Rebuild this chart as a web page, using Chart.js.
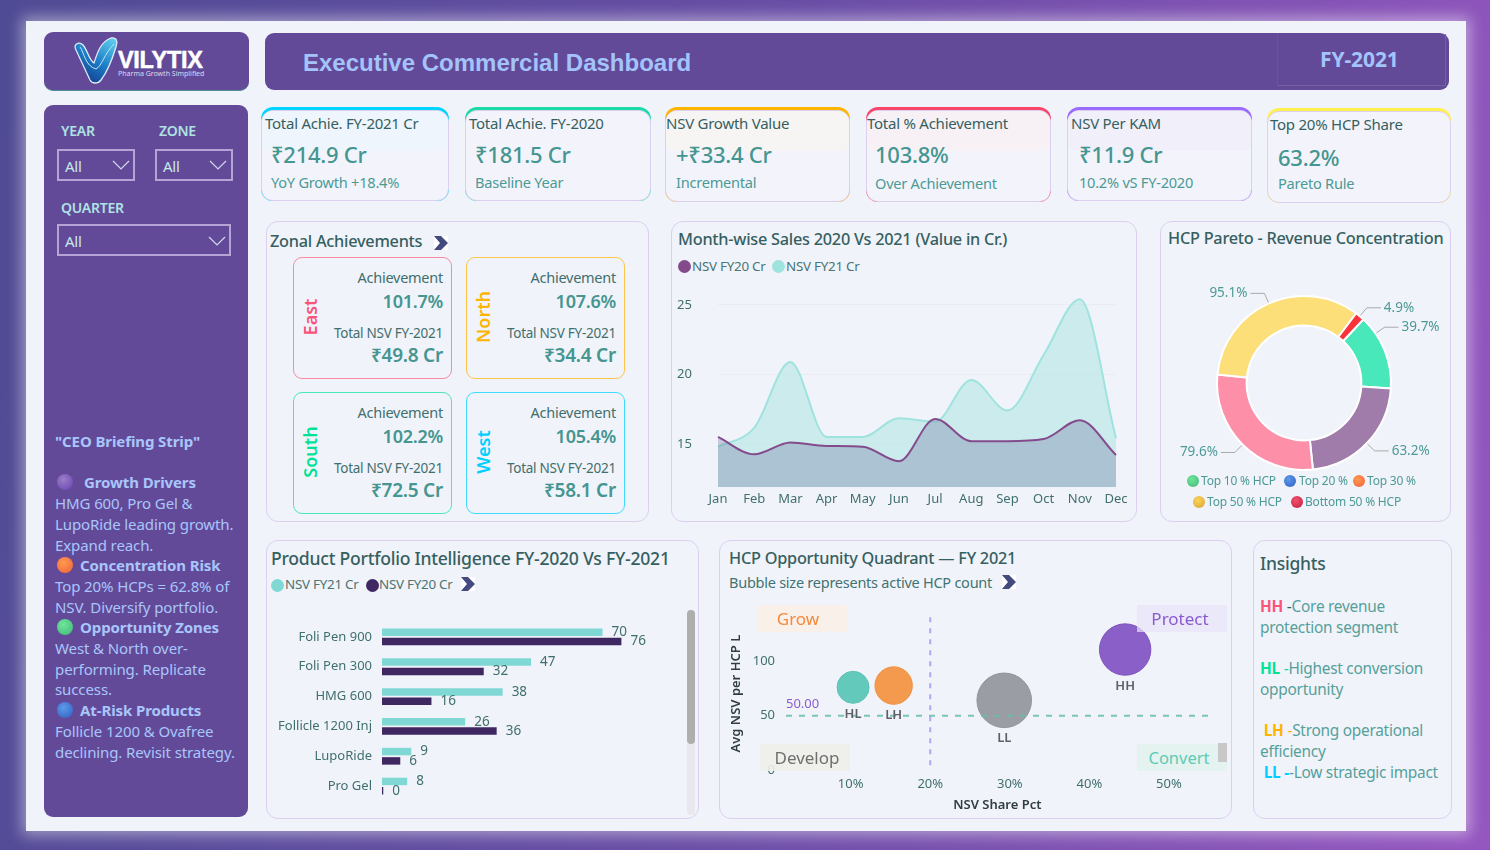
<!DOCTYPE html>
<html>
<head>
<meta charset="utf-8">
<title>Executive Commercial Dashboard</title>
<script src="https://cdn.jsdelivr.net/npm/chart.js@4"></script>
<style>
  html, body { margin: 0; padding: 0; }
  body { width: 1490px; height: 850px; overflow: hidden; position: relative; font-family: "Noto Sans", sans-serif; color: #35605f;
    background: linear-gradient(100deg, #4f4b94 0%, #6a4ea6 50%, #9556c0 100%); }
  .abs, .t, canvas { position: absolute; }
  .t { white-space: nowrap; line-height: 20px; letter-spacing: -0.25px; }
  #sheet { left: 26px; top: 21px; width: 1440px; height: 810px; background: #f1f3fa; box-shadow: 0 0 14px 4px rgba(255,255,255,.45); }
  .bar { background: #634a99; border-radius: 9px; }
  .panel { border: 1.5px solid #dccff0; border-radius: 12px; box-sizing: border-box; background: #f1f3fa; }
  .h2 { font-size: 16.3px; font-weight: 500; color: #35605f; }
  .lbl { font-size: 13.4px; color: #4a7573; }
  .dot { width: 13px; height: 13px; border-radius: 50%; }
  .orb { width: 13px; height: 13px; border-radius: 50%; }
  .dd { border: 2px solid #b5a5d4; box-sizing: border-box; }
  .kpi-top { border-radius: 12px; overflow: hidden; }
  .kpi-in { left: 0; right: 0; top: 3px; bottom: 0; border: 1.5px solid #dccff0; border-radius: 12px; box-sizing: border-box; overflow: hidden; }
  .zone { border: 1.5px solid; border-radius: 9px; box-sizing: border-box; }
  .rot { transform: translate(-50%, -50%) rotate(-90deg); font-size: 18px; font-weight: 600; line-height: 20px; white-space: nowrap; }
  .quad { font-size: 17px; text-align: center; line-height: 27px; box-sizing: border-box; }
</style>
</head>
<body>
<div id="sheet" class="abs"></div>

<!-- logo -->
<div class="abs bar" style="left:44px;top:32px;width:205px;height:59px;border-bottom:1px solid #4f8f9a;box-sizing:border-box"></div>
<svg class="abs" style="left:70px;top:36px" width="50" height="50" viewBox="0 0 50 50">
  <defs><linearGradient id="lg" x1="0.9" y1="0" x2="0.3" y2="1"><stop offset="0" stop-color="#5fd0ee"/><stop offset="0.55" stop-color="#1d7cc6"/><stop offset="1" stop-color="#123d8f"/></linearGradient></defs>
  <path d="M6 14 C3 8 9 5 13 9 C18 15 19 24 24 27 C27 18 30 6 41 2 C47 1 48 6 46 11 C42 24 38 35 31 44 C28 48 22 48 20 44 Z" fill="url(#lg)" stroke="#dce9f7" stroke-width="1.3"/>
  <path d="M10 11 C14 16 15 30 26 33 C32 30 34 18 44 8" fill="none" stroke="#bfe6f5" stroke-width="1"/>
</svg>
<div class="t" style="left:118px;top:48px;font:900 23.5px/24px 'Liberation Sans';color:#fff;letter-spacing:-0.3px;-webkit-text-stroke:0.5px #fff">VILYTIX</div>
<div class="t" style="left:118px;top:69px;font-size:7px;line-height:9px;color:#d9d9ee;letter-spacing:0">Pharma Growth Simplified</div>

<!-- header -->
<div class="abs bar" style="left:265px;top:33px;width:1184px;height:57px"></div>
<div class="abs" style="left:1277px;top:34px;width:167px;height:51px;border-right:1px solid #74619f;border-bottom:1px solid #74619f;border-left:1px solid #6a5499"></div>
<div class="t" style="left:303px;top:48px;font:700 24px/30px 'Liberation Sans';color:#a3c4fb;letter-spacing:0">Executive Commercial Dashboard</div>
<div class="t" style="left:1320px;top:45px;font-size:21px;line-height:28px;font-weight:700;color:#a3c4fb;letter-spacing:-0.1px">FY-2021</div>

<!-- sidebar -->
<div class="abs bar" style="left:44px;top:105px;width:204px;height:712px"></div>
<div class="t" style="left:61px;top:121px;font-size:14px;font-weight:600;color:#aee3e3">YEAR</div>
<div class="t" style="left:159px;top:121px;font-size:14px;font-weight:600;color:#aee3e3">ZONE</div>
<div class="t" style="left:61px;top:198px;font-size:14px;font-weight:600;color:#aee3e3">QUARTER</div>
<div class="abs dd" style="left:57px;top:149px;width:78px;height:32px"></div>
<div class="abs dd" style="left:155px;top:149px;width:78px;height:32px"></div>
<div class="abs dd" style="left:57px;top:224px;width:174px;height:32px"></div>
<div class="t" style="left:65px;top:156px;font-size:15px;color:#c6e8ea">All</div>
<div class="t" style="left:163px;top:156px;font-size:15px;color:#c6e8ea">All</div>
<div class="t" style="left:65px;top:231px;font-size:15px;color:#c6e8ea">All</div>
<svg class="abs" style="left:112px;top:160px" width="18" height="10"><path d="M1 1 L9 9 L17 1" fill="none" stroke="#cfd8ee" stroke-width="1.2"/></svg>
<svg class="abs" style="left:209px;top:160px" width="18" height="10"><path d="M1 1 L9 9 L17 1" fill="none" stroke="#cfd8ee" stroke-width="1.2"/></svg>
<svg class="abs" style="left:208px;top:236px" width="18" height="10"><path d="M1 1 L9 9 L17 1" fill="none" stroke="#cfd8ee" stroke-width="1.2"/></svg>

<div class="abs" style="left:55px;top:431px;width:190px;font-size:15px;line-height:20.7px;color:#a8c6fb;letter-spacing:-0.1px;white-space:nowrap">
  <b>"CEO Briefing Strip"</b><br><br>
  <b style="margin-left:29px">Growth Drivers</b><br>
  HMG 600, Pro Gel &amp;<br>LupoRide leading growth.<br>Expand reach.<br>
  <b style="margin-left:25px">Concentration Risk</b><br>
  Top 20% HCPs = 62.8% of<br>NSV. Diversify portfolio.<br>
  <b style="margin-left:25px">Opportunity Zones</b><br>
  West &amp; North over-<br>performing. Replicate<br>success.<br>
  <b style="margin-left:25px">At-Risk Products</b><br>
  Follicle 1200 &amp; Ovafree<br>declining. Revisit strategy.
</div>
<div class="abs orb" style="left:57px;top:474px;width:16px;height:16px;background:radial-gradient(circle at 40% 35%,#9a7fc8,#6a3fb0)"></div>
<div class="abs orb" style="left:57px;top:557px;width:16px;height:16px;background:radial-gradient(circle at 40% 35%,#ff9a50,#f0603a)"></div>
<div class="abs orb" style="left:57px;top:619px;width:16px;height:16px;background:radial-gradient(circle at 40% 35%,#70e49a,#3cb878)"></div>
<div class="abs orb" style="left:57px;top:702px;width:16px;height:16px;background:radial-gradient(circle at 40% 35%,#5c9ae8,#2f5ec0)"></div>

<div id="kpis"></div>

<!-- zonal -->
<div class="abs panel" style="left:266px;top:221px;width:383px;height:301px"></div>
<div class="t h2" style="left:270px;top:231px">Zonal Achievements</div>
<div id="zones"></div>

<!-- month-wise -->
<div class="abs panel" style="left:671px;top:221px;width:466px;height:301px"></div>
<div class="t h2" style="left:678px;top:229px">Month-wise Sales 2020 Vs 2021 (Value in Cr.)</div>
<div class="abs dot" style="left:678px;top:260px;background:#834b8b"></div>
<div class="t lbl" style="left:692px;top:256px">NSV FY20 Cr</div>
<div class="abs dot" style="left:772px;top:260px;background:#9fe3de"></div>
<div class="t lbl" style="left:786px;top:256px">NSV FY21 Cr</div>
<canvas id="monthChart" width="459" height="228" style="left:677px;top:285px"></canvas>

<!-- pareto -->
<div class="abs panel" style="left:1160px;top:221px;width:291px;height:301px"></div>
<div class="t h2" style="left:1168px;top:228px">HCP Pareto - Revenue Concentration</div>
<canvas id="paretoChart" width="286" height="226" style="left:1161px;top:270px"></canvas>
<div id="paretoLegend"></div>

<!-- product -->
<div class="abs panel" style="left:266px;top:540px;width:433px;height:279px"></div>
<div class="t" style="left:271px;top:548px;font-size:17.6px;font-weight:500;color:#35605f">Product Portfolio Intelligence FY-2020 Vs FY-2021</div>
<div class="abs dot" style="left:271px;top:579px;background:#7fd8d4"></div>
<div class="t lbl" style="left:285px;top:574px">NSV FY21 Cr</div>
<div class="abs dot" style="left:366px;top:579px;background:#3f2862"></div>
<div class="t lbl" style="left:379px;top:574px">NSV FY20 Cr</div>
<canvas id="productChart" width="412" height="179" style="left:268px;top:622px"></canvas>
<div class="abs" style="left:687px;top:610px;width:8px;height:205px;background:#e8e8ee;border-radius:4px"></div>
<div class="abs" style="left:687px;top:610px;width:8px;height:134px;background:#aeaeae;border-radius:4px"></div>

<!-- quadrant -->
<div class="abs panel" style="left:719px;top:540px;width:513px;height:279px"></div>
<div class="t h2" style="left:729px;top:548px">HCP Opportunity Quadrant — FY 2021</div>
<div class="t" style="left:729px;top:572px;font-size:14.5px;color:#3f7472">Bubble size represents active HCP count</div>
<!-- bubble charts keep a margin of the largest radius around the plot, so this canvas runs past the panel's plot on top and right -->
<canvas id="quadChart" width="509" height="224" style="left:728px;top:589px"></canvas>
<div class="abs quad" style="left:757px;top:605px;width:90px;height:27px;padding-right:8px;background:rgba(251,238,230,.85);color:#f58a3c">Grow</div>
<div class="abs quad" style="left:1137px;top:605px;width:90px;height:27px;padding-right:4px;background:rgba(232,226,250,.7);color:#8a5bd0">Protect</div>
<div class="abs quad" style="left:760px;top:744px;width:90px;height:27px;padding-left:4px;background:rgba(238,238,234,.9);color:#6f6f6f">Develop</div>
<div class="abs quad" style="left:1137px;top:744px;width:90px;height:27px;padding-right:6px;font-size:16.5px;background:#e4f3f0;color:#5ecbb5">Convert</div>
<div class="abs" style="left:1218px;top:743px;width:9px;height:19px;background:#c8c8c8"></div>

<!-- insights -->
<div class="abs panel" style="left:1253px;top:540px;width:199px;height:279px"></div>
<div class="t" style="left:1260px;top:553px;font-size:17.5px;font-weight:500;color:#35605f">Insights</div>
<div class="abs" style="left:1260px;top:597px;font-size:15.4px;line-height:20.7px;color:#55a09b;white-space:nowrap;letter-spacing:-0.25px">
  <b style="color:#f9557a">HH</b> <span style="color:#35605f">-</span>Core revenue<br>protection segment<br><br>
  <b style="color:#00e396">HL</b> <span style="color:#00e396">-</span>Highest conversion<br>opportunity<br><br>
  &nbsp;<b style="color:#ffb400">LH</b> <span style="color:#ffb400">-</span>Strong operational<br>efficiency<br>
  &nbsp;<b style="color:#00cfff">LL</b> <b style="color:#00cfff">-</b>-Low strategic impact
</div>

<script>
// KPI row
const kpiTitles = ['Total Achie. FY-2021 Cr', 'Total Achie. FY-2020', 'NSV Growth Value', 'Total % Achievement', 'NSV Per KAM', 'Top 20% HCP Share'];
const kpiValues = ['₹214.9 Cr', '₹181.5 Cr', '+₹33.4 Cr', '103.8%', '₹11.9 Cr', '63.2%'];
const kpiNotes = ['YoY Growth +18.4%', 'Baseline Year', 'Incremental', 'Over Achievement', '10.2% vS FY-2020', 'Pareto Rule'];

// Zones
const zoneNames = ['East', 'North', 'South', 'West'];
const zoneAchievement = ['101.7%', '107.6%', '102.2%', '105.4%'];
const zoneNsv = ['₹49.8 Cr', '₹34.4 Cr', '₹72.5 Cr', '₹58.1 Cr'];

// Month-wise sales
const months = ['Jan', 'Feb', 'Mar', 'Apr', 'May', 'Jun', 'Jul', 'Aug', 'Sep', 'Oct', 'Nov', 'Dec'];
const nsvFy20Monthly = [15.5, 14.25, 15.1, 14.85, 14.8, 13.75, 16.8, 15.2, 15.2, 15.35, 16.7, 14.2];
const nsvFy21Monthly = [14.8, 16.15, 20.9, 15.5, 15.5, 16.85, 16.6, 19.6, 17.4, 21.4, 25.4, 15.4];
const monthTicks = [15, 20, 25];

// Pareto
const paretoLabels = ['Top 10 % HCP', 'Top 20 %', 'Top 30 %', 'Top 50 % HCP', 'Bottom 50 % HCP'];
const paretoValues = [39.7, 63.2, 79.6, 95.1, 4.9];

// Products
const products = ['Foli Pen 900', 'Foli Pen 300', 'HMG 600', 'Follicle 1200 Inj', 'LupoRide', 'Pro Gel'];
const nsvFy21Product = [70, 47.3, 38.3, 26.4, 9.3, 8];
const nsvFy20Product = [76, 32.3, 15.7, 36.4, 5.8, 0.4];

// Quadrant
const segments = ['HH', 'LL', 'LH', 'HL'];
const nsvSharePct = [44.5, 29.3, 15.4, 10.3];
const avgNsvPerHcp = [111, 64.2, 77.8, 76.2];
const activeHcpCount = [660, 745, 350, 256];
const shareTicks = [10, 20, 30, 40, 50];
const avgTicks = [0, 50, 100];
const shareSplit = 20;
const avgSplit = 50;

// Page furniture built from the lists above
const kpiBoxes = [
  { x: 261, y: 107, w: 188, h: 94, accent: '#00d4ff', tint: '#eef5fc', tx: 4, vx: 10, vy: 47, ny: 75 },
  { x: 465, y: 107, w: 186, h: 94, accent: '#19dba8', tint: null, tx: 4, vx: 10, vy: 47, ny: 75 },
  { x: 665, y: 107, w: 185, h: 95, accent: '#ffb400', tint: '#f7f5f3', tx: 1, vx: 11, vy: 47, ny: 75 },
  { x: 866, y: 107, w: 185, h: 95, accent: '#f9466a', tint: '#f7f1f6', tx: 1, vx: 9, vy: 47, ny: 76 },
  { x: 1067, y: 107, w: 185, h: 94, accent: '#9b6bff', tint: '#f1effa', tx: 4, vx: 12, vy: 47, ny: 75 },
  { x: 1267, y: 108, w: 184, h: 95, accent: '#fff04d', tint: null, tx: 3, vx: 11, vy: 49, ny: 75 }
];
document.getElementById('kpis').innerHTML = kpiBoxes.map((b, i) => `
  <div class="abs kpi-top" style="left:${b.x}px;top:${b.y}px;width:${b.w}px;height:${b.h}px;background:${b.accent}">
    <div class="abs kpi-in" style="background:#f3f4fb">
      ${b.tint ? `<div class="abs" style="left:0;right:0;top:0;height:40px;background:${b.tint};border-radius:0 0 8px 8px"></div>` : ''}
    </div>
  </div>
  <div class="t" style="left:${b.x + b.tx}px;top:${b.y + 6}px;font-size:15px;color:#35605f">${kpiTitles[i]}</div>
  <div class="t" style="left:${b.x + b.vx}px;top:${b.y + b.vy - 14}px;font-size:22px;line-height:28px;font-weight:500;color:#459590">${kpiValues[i]}</div>
  <div class="t" style="left:${b.x + b.vx}px;top:${b.y + b.ny - 10}px;font-size:14.6px;color:#4b9a96">${kpiNotes[i]}</div>`).join('');

const zoneBoxes = [
  { x: 293, y: 257, color: '#f9557a', edge: '#f98aa2' },
  { x: 466, y: 257, color: '#ffb400', edge: '#fbc64a' },
  { x: 293, y: 392, color: '#00e396', edge: '#4be8bc' },
  { x: 466, y: 392, color: '#00cfff', edge: '#3fdcff' }
];
document.getElementById('zones').innerHTML = zoneBoxes.map((b, i) => `
  <div class="abs zone" style="left:${b.x}px;top:${b.y}px;width:159px;height:122px;border-color:${b.edge}"></div>
  <div class="abs rot" style="left:${b.x + 17}px;top:${b.y + 60}px;color:${b.color}">${zoneNames[i]}</div>
  <div class="t" style="right:${1490 - b.x - 150}px;top:${b.y + 10}px;font-size:14.5px;color:#3f6f6d">Achievement</div>
  <div class="t" style="right:${1490 - b.x - 150}px;top:${b.y + 34}px;font-size:18px;font-weight:600;color:#459590">${zoneAchievement[i]}</div>
  <div class="t" style="right:${1490 - b.x - 150}px;top:${b.y + 66}px;font-size:13.5px;color:#3f6f6d">Total NSV FY-2021</div>
  <div class="t" style="right:${1490 - b.x - 150}px;top:${b.y + 88}px;font-size:19px;font-weight:600;color:#459590">${zoneNsv[i]}</div>`).join('');

const orbs = [
  ['#70e49a', '#3cb878'], ['#5c9ae8', '#2f5ec0'], ['#ff9a50', '#f0603a'], ['#f7d45a', '#e0a030'], ['#f0506a', '#c02040']
];
const legendSpots = [[1187, 1201, 481], [1284, 1299, 481], [1353, 1367, 481], [1193, 1207, 502], [1291, 1305, 502]];
document.getElementById('paretoLegend').innerHTML = legendSpots.map((s, i) => `
  <div class="abs orb" style="left:${s[0]}px;top:${s[2] - 6}px;width:12px;height:12px;background:radial-gradient(circle at 40% 35%,${orbs[i][0]},${orbs[i][1]})"></div>
  <div class="t" style="left:${s[1]}px;top:${s[2] - 10}px;font-size:12px;color:#4b9a96;letter-spacing:-0.2px">${paretoLabels[i]}</div>`).join('');

// The little double-toned chevrons next to titles
[[434, 236], [461, 577], [1002, 575]].forEach(([x, y]) => {
  document.body.insertAdjacentHTML('beforeend', `<svg class="abs" style="left:${x}px;top:${y}px" width="14" height="14">
    <rect width="14" height="14" fill="#fff"/><path d="M0 0 H7 L14 7 L7 14 H0 L6 7 Z" fill="#44497e"/></svg>`);
});

Chart.defaults.font.family = '"Noto Sans", sans-serif';
Chart.defaults.animation = false;
Chart.defaults.responsive = false;
Chart.defaults.plugins.legend.display = false;
Chart.defaults.plugins.tooltip.enabled = false;

const tickColor = '#3f6f6d';

// Chart.js reserves room for half a tick label past the ends of an axis; these plots sit on exact spots
function noAxisPadding(scale) {
  scale.paddingTop = 0;
  scale.paddingBottom = 0;
  scale.paddingLeft = 0;
  scale.paddingRight = 0;
}

// Month-wise area chart
new Chart(document.getElementById('monthChart'), {
  type: 'line',
  data: {
    labels: months,
    datasets: [
      { label: 'NSV FY20 Cr', data: nsvFy20Monthly, borderColor: '#834b8b', borderWidth: 2, pointRadius: 0, cubicInterpolationMode: 'monotone', fill: 'start', backgroundColor: 'rgba(90,90,140,0.27)' },
      { label: 'NSV FY21 Cr', data: nsvFy21Monthly, borderColor: '#9fe3de', borderWidth: 2, pointRadius: 0, cubicInterpolationMode: 'monotone', fill: 'start', backgroundColor: 'rgba(159,227,222,0.45)' }
    ]
  },
  options: {
    layout: { padding: { top: 6, right: 20, left: 0, bottom: 0 } },
    scales: {
      x: {
        grid: { display: false, drawTicks: false }, border: { display: false },
        ticks: { color: tickColor, font: { size: 13 }, maxRotation: 0, padding: 4 },
        afterFit: s => { s.height = 26; noAxisPadding(s); }
      },
      y: {
        min: 11.9, max: 26,
        grid: { color: 'rgba(90,110,130,0.05)', drawTicks: false }, border: { display: false },
        ticks: { color: tickColor, font: { size: 13 }, crossAlign: 'far', padding: 6 },
        afterBuildTicks: s => { s.ticks = monthTicks.map(v => ({ value: v })); },
        afterFit: s => { s.width = 41; noAxisPadding(s); }
      }
    }
  }
});

// Doughnut with elbow labels
const paretoColors = ['#48e8bb', '#a07cab', '#fd90a8', '#fcdf78', '#f8333c'];
const labelNudgeDeg = [-13, 0, 0, 0, 0];
const elbowLabels = {
  id: 'elbowLabels',
  afterDraw(chart) {
    const { ctx } = chart;
    chart.getDatasetMeta(0).data.forEach((arc, i) => {
      const a = (arc.startAngle + arc.endAngle) / 2 + labelNudgeDeg[i] * Math.PI / 180;
      const r = arc.outerRadius;
      const x0 = arc.x + Math.cos(a) * (r + 1);
      const y0 = arc.y + Math.sin(a) * (r + 1);
      const x1 = arc.x + Math.cos(a) * (r + 11);
      const y1 = arc.y + Math.sin(a) * (r + 11);
      const side = Math.cos(a) >= 0 ? 1 : -1;
      const x2 = x1 + side * 14;
      ctx.save();
      ctx.strokeStyle = '#a9a9a9';
      ctx.lineWidth = 1;
      ctx.beginPath();
      ctx.moveTo(x0, y0);
      ctx.lineTo(x1, y1);
      ctx.lineTo(x2, y1);
      ctx.stroke();
      ctx.fillStyle = '#4b9a96';
      ctx.font = '13.5px "Noto Sans"';
      ctx.textAlign = side > 0 ? 'left' : 'right';
      ctx.textBaseline = 'middle';
      ctx.fillText(paretoValues[i].toFixed(1) + '%', x2 + side * 3, y1);
      ctx.restore();
    });
  }
};
new Chart(document.getElementById('paretoChart'), {
  type: 'doughnut',
  data: {
    labels: paretoLabels,
    datasets: [{ data: paretoValues, backgroundColor: paretoColors, borderColor: '#ffffff', borderWidth: 2 }]
  },
  options: {
    rotation: 43,
    cutout: '66%',
    layout: { padding: { top: 25, bottom: 25 } }
  },
  plugins: [elbowLabels]
});

// Product bars
const barValues = {
  id: 'barValues',
  afterDatasetsDraw(chart) {
    const { ctx } = chart;
    chart.data.datasets.forEach((ds, d) => {
      chart.getDatasetMeta(d).data.forEach((bar, i) => {
        ctx.save();
        ctx.fillStyle = '#3f6f6d';
        ctx.font = '13.5px "Noto Sans"';
        ctx.textBaseline = 'middle';
        ctx.fillText(String(Math.round(ds.data[i])), bar.x + 9, bar.y);
        ctx.restore();
      });
    });
  }
};
new Chart(document.getElementById('productChart'), {
  type: 'bar',
  data: {
    labels: products,
    datasets: [
      { label: 'NSV FY21 Cr', data: nsvFy21Product, backgroundColor: '#7fd8d4', categoryPercentage: 0.626, barPercentage: 0.8 },
      { label: 'NSV FY20 Cr', data: nsvFy20Product, backgroundColor: '#3f2862', categoryPercentage: 0.626, barPercentage: 0.8 }
    ]
  },
  options: {
    indexAxis: 'y',
    scales: {
      x: { display: false, min: 0, max: 94.6 },
      y: {
        grid: { display: false, drawTicks: false }, border: { display: false },
        ticks: { color: tickColor, font: { size: 13 }, padding: 10 },
        afterFit: s => { s.width = 114; noAxisPadding(s); }
      }
    }
  },
  plugins: [barValues]
});

// Quadrant bubbles
const quadOverlay = {
  id: 'quadOverlay',
  afterDatasetsDraw(chart) {
    const { ctx, scales: { x, y } } = chart;
    const splitX = x.getPixelForValue(shareSplit);
    const splitY = y.getPixelForValue(avgSplit);
    ctx.save();
    ctx.lineWidth = 2;
    ctx.setLineDash([5, 6]);
    ctx.strokeStyle = '#b3a6ee';
    ctx.beginPath();
    ctx.moveTo(splitX, y.top);
    ctx.lineTo(splitX, y.bottom);
    ctx.stroke();
    ctx.strokeStyle = 'rgba(100,190,165,0.85)';
    ctx.setLineDash([6, 7]);
    ctx.beginPath();
    ctx.moveTo(x.left, splitY);
    ctx.lineTo(x.right, splitY);
    ctx.stroke();
    ctx.setLineDash([]);
    ctx.fillStyle = '#8a5bd0';
    ctx.font = '13px "Noto Sans"';
    ctx.textBaseline = 'middle';
    ctx.fillText(avgSplit.toFixed(2), x.left, splitY - 11);
    ctx.fillStyle = '#5f5f66';
    ctx.font = '600 13px "Noto Sans"';
    ctx.textAlign = 'center';
    chart.getDatasetMeta(0).data.forEach((pt, i) => {
      ctx.fillText(segments[i], pt.x, pt.y + Math.sqrt(activeHcpCount[i]) + 11);
    });
    ctx.restore();
  }
};
new Chart(document.getElementById('quadChart'), {
  type: 'bubble',
  data: {
    datasets: [{
      label: 'HCP segments',
      data: segments.map((s, i) => ({ x: nsvSharePct[i], y: avgNsvPerHcp[i], r: Math.sqrt(activeHcpCount[i]) })),
      backgroundColor: ['#8a60c8', '#9b9da5', '#f39a4f', '#62c9bb'],
      borderColor: ['#7c52bc', '#92949c', '#f0913f', '#5cc2b4'],
      borderWidth: 1,
      clip: false
    }]
  },
  options: {
    layout: { padding: 0 },
    scales: {
      x: {
        type: 'linear', min: 1.87, max: 55,
        grid: { display: false, drawTicks: false }, border: { display: false },
        ticks: { color: tickColor, font: { size: 13 }, padding: 6, callback: v => v + '%' },
        afterBuildTicks: s => { s.ticks = shareTicks.map(v => ({ value: v })); },
        title: { display: true, text: 'NSV Share Pct', color: '#2f3f3f', font: { size: 13, weight: '600' }, padding: { top: 4, bottom: 0 } },
        afterFit: s => { s.height = 43; noAxisPadding(s); }
      },
      y: {
        min: 0, max: 140.7,
        grid: { display: false, drawTicks: false }, border: { display: false },
        ticks: { color: tickColor, font: { size: 13 }, padding: 11 },
        afterBuildTicks: s => { s.ticks = avgTicks.map(v => ({ value: v })); },
        title: { display: true, text: 'Avg NSV per HCP L', color: '#2f3f3f', font: { size: 13, weight: '600' }, padding: { top: 0, bottom: 0 } },
        afterFit: s => { s.width = 58; noAxisPadding(s); }
      }
    }
  },
  plugins: [quadOverlay]
});
</script>
</body>
</html>
